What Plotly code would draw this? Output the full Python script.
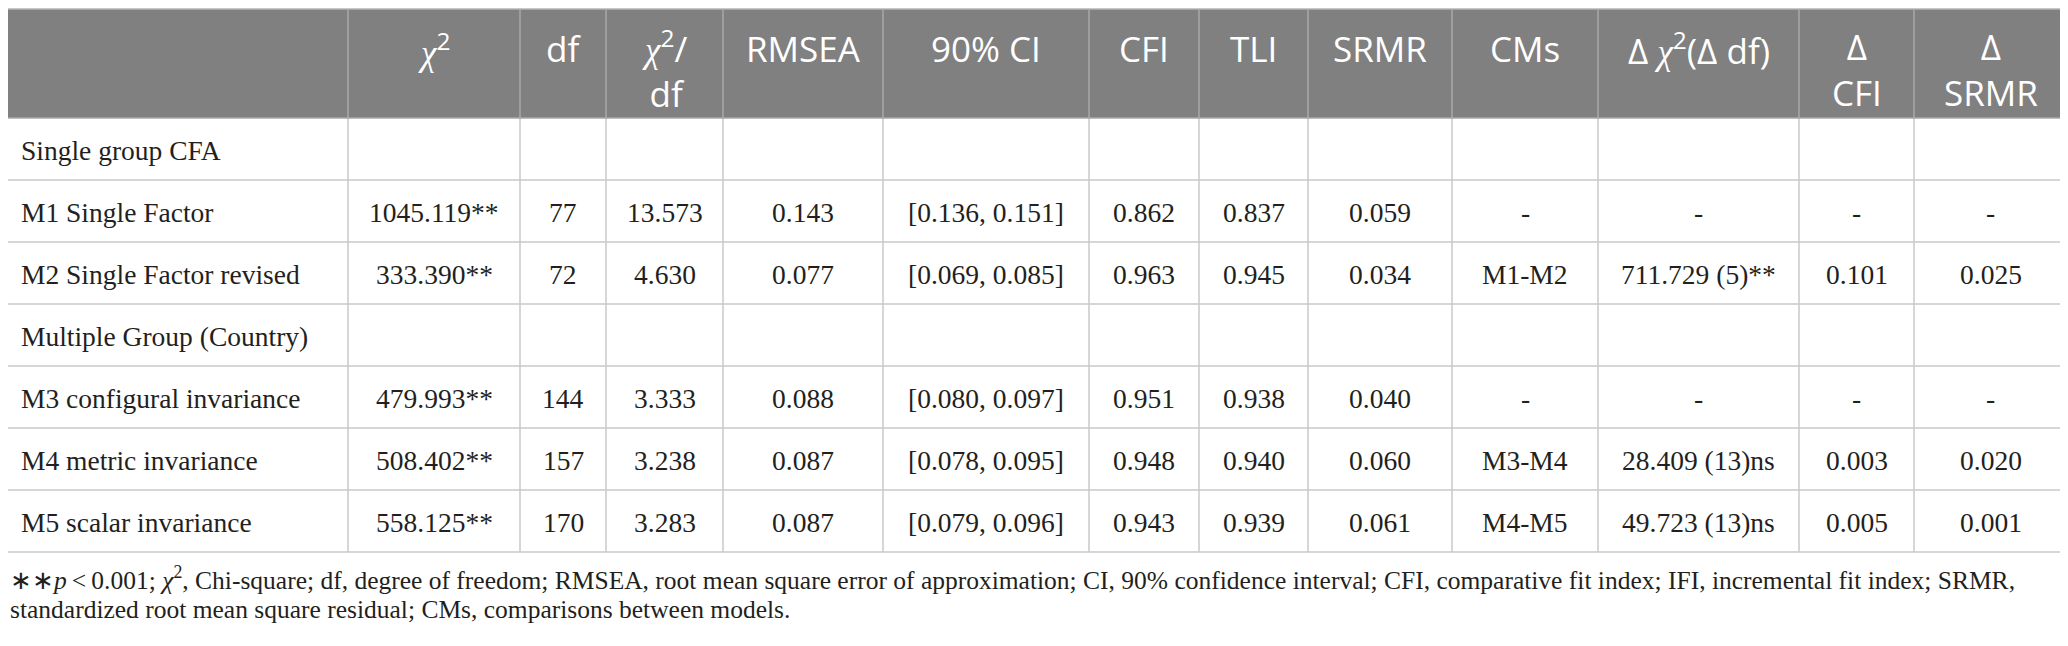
import plotly.graph_objects as go

# ---- table contents ----
CHI = '<span style="font-family:Liberation Serif"><i>χ</i></span><sup>2</sup>'
headers = [
    "",
    CHI,
    "df",
    CHI + "/<br>df",
    "RMSEA",
    "90% CI",
    "CFI",
    "TLI",
    "SRMR",
    "CMs",
    "Δ " + CHI + "(Δ df)",
    "Δ<br>CFI",
    "Δ<br>SRMR",
]

models = ["Single group CFA", "M1 Single Factor", "M2 Single Factor revised",
          "Multiple Group (Country)", "M3 configural invariance",
          "M4 metric invariance", "M5 scalar invariance"]
chi2 = ["", "1045.119**", "333.390**", "", "479.993**", "508.402**", "558.125**"]
df = ["", "77", "72", "", "144", "157", "170"]
chi2_df = ["", "13.573", "4.630", "", "3.333", "3.238", "3.283"]
rmsea = ["", "0.143", "0.077", "", "0.088", "0.087", "0.087"]
ci90 = ["", "[0.136, 0.151]", "[0.069, 0.085]", "", "[0.080, 0.097]",
        "[0.078, 0.095]", "[0.079, 0.096]"]
cfi = ["", "0.862", "0.963", "", "0.951", "0.948", "0.943"]
tli = ["", "0.837", "0.945", "", "0.938", "0.940", "0.939"]
srmr = ["", "0.059", "0.034", "", "0.040", "0.060", "0.061"]
cms = ["", "-", "M1-M2", "", "-", "M3-M4", "M4-M5"]
d_chi2 = ["", "-", "711.729 (5)**", "", "-", "28.409 (13)ns", "49.723 (13)ns"]
d_cfi = ["", "-", "0.101", "", "-", "0.003", "0.005"]
d_srmr = ["", "-", "0.025", "", "-", "0.020", "0.001"]

columns = [models, chi2, df, chi2_df, rmsea, ci90, cfi, tli, srmr,
           cms, d_chi2, d_cfi, d_srmr]

notes = [
    "∗∗<i>p</i>\u2009<\u20090.001; <i>χ</i><sup>2</sup>, Chi-square; df, degree of freedom; "
    "RMSEA, root mean square error of approximation; CI, 90% confidence interval; "
    "CFI, comparative fit index; IFI, incremental fit index; SRMR,",
    "standardized root mean square residual; CMs, comparisons between models.",
]

# ---- geometry, in page pixels ----
W, H = 2068, 646
OFF = 8  # the page body margin puts the figure 8px in from the corner
col_widths = [348, 172, 86, 117, 160, 206, 110, 109, 144, 146, 201, 115, 153]
HEAD_TOP, HEAD_H, ROW_H = 9, 109, 62

edges = [0]
for w in col_widths:
    edges.append(edges[-1] + w)
n_rows = len(models)
body_top = HEAD_TOP + HEAD_H
body_bottom = body_top + n_rows * ROW_H

HEAD_FILL = "#808080"
HEAD_LINE = "#a9a9a9"
GRID = "#c8c8c8"
INK = "#231f20"

fig = go.Figure(go.Scatter(x=[], y=[], showlegend=False, hoverinfo="skip"))

# header block
fig.add_shape(type="rect", x0=edges[0], x1=edges[-1], y0=HEAD_TOP, y1=body_top,
              fillcolor=HEAD_FILL, line_width=0, layer="below")
fig.add_shape(type="line", x0=edges[0], x1=edges[-1], y0=HEAD_TOP, y1=HEAD_TOP,
              line=dict(color="#b4b4b4", width=1.5))
for xe in edges[1:]:
    fig.add_shape(type="line", x0=xe, x1=xe, y0=HEAD_TOP, y1=body_top,
                  line=dict(color=HEAD_LINE, width=1.5))
    fig.add_shape(type="line", x0=xe, x1=xe, y0=body_top, y1=body_bottom,
                  line=dict(color=GRID, width=1.5))
for r in range(n_rows + 1):
    yr = body_top + r * ROW_H
    fig.add_shape(type="line", x0=edges[0], x1=edges[-1], y0=yr, y1=yr,
                  line=dict(color=GRID if r else HEAD_LINE, width=1.5))

# header text: first line sits near the top of the header band
for c, txt in enumerate(headers):
    if not txt:
        continue
    xc = (edges[c] + edges[c + 1]) / 2
    two_lines = "<br>" in txt
    fig.add_annotation(
        x=xc, y=(69 if two_lines else 48), text=txt, showarrow=False,
        xanchor="center", yanchor="middle",
        font=dict(family="Open Sans", size=35, color="white"),
    )

# body text
for c, col in enumerate(columns):
    for r, val in enumerate(col):
        if not val:
            continue
        yc = body_top + r * ROW_H + 32
        if c == 0:
            x, anchor = edges[0] + 19, "left"
        else:
            x, anchor = (edges[c] + edges[c + 1]) / 2, "center"
        fig.add_annotation(
            x=x, y=yc, text=val, showarrow=False,
            xanchor=anchor, yanchor="middle",
            font=dict(family="Liberation Serif", size=27.5, color=INK),
        )

# footnote (anchored at the left edge of the visible figure)
for k, txt in enumerate(notes):
    fig.add_annotation(
        x=OFF, y=578 + 31 * k, text=txt, showarrow=False,
        xanchor="left", yanchor="middle",
        font=dict(family="Liberation Serif", size=25.5, color=INK),
    )

fig.update_layout(
    width=W, height=H,
    margin=dict(l=0, r=0, t=0, b=0),
    paper_bgcolor="white", plot_bgcolor="white",
    xaxis=dict(range=[OFF, W + OFF], visible=False, fixedrange=True),
    yaxis=dict(range=[H + OFF, OFF], visible=False, fixedrange=True),
)

fig.write_html("out.html")
